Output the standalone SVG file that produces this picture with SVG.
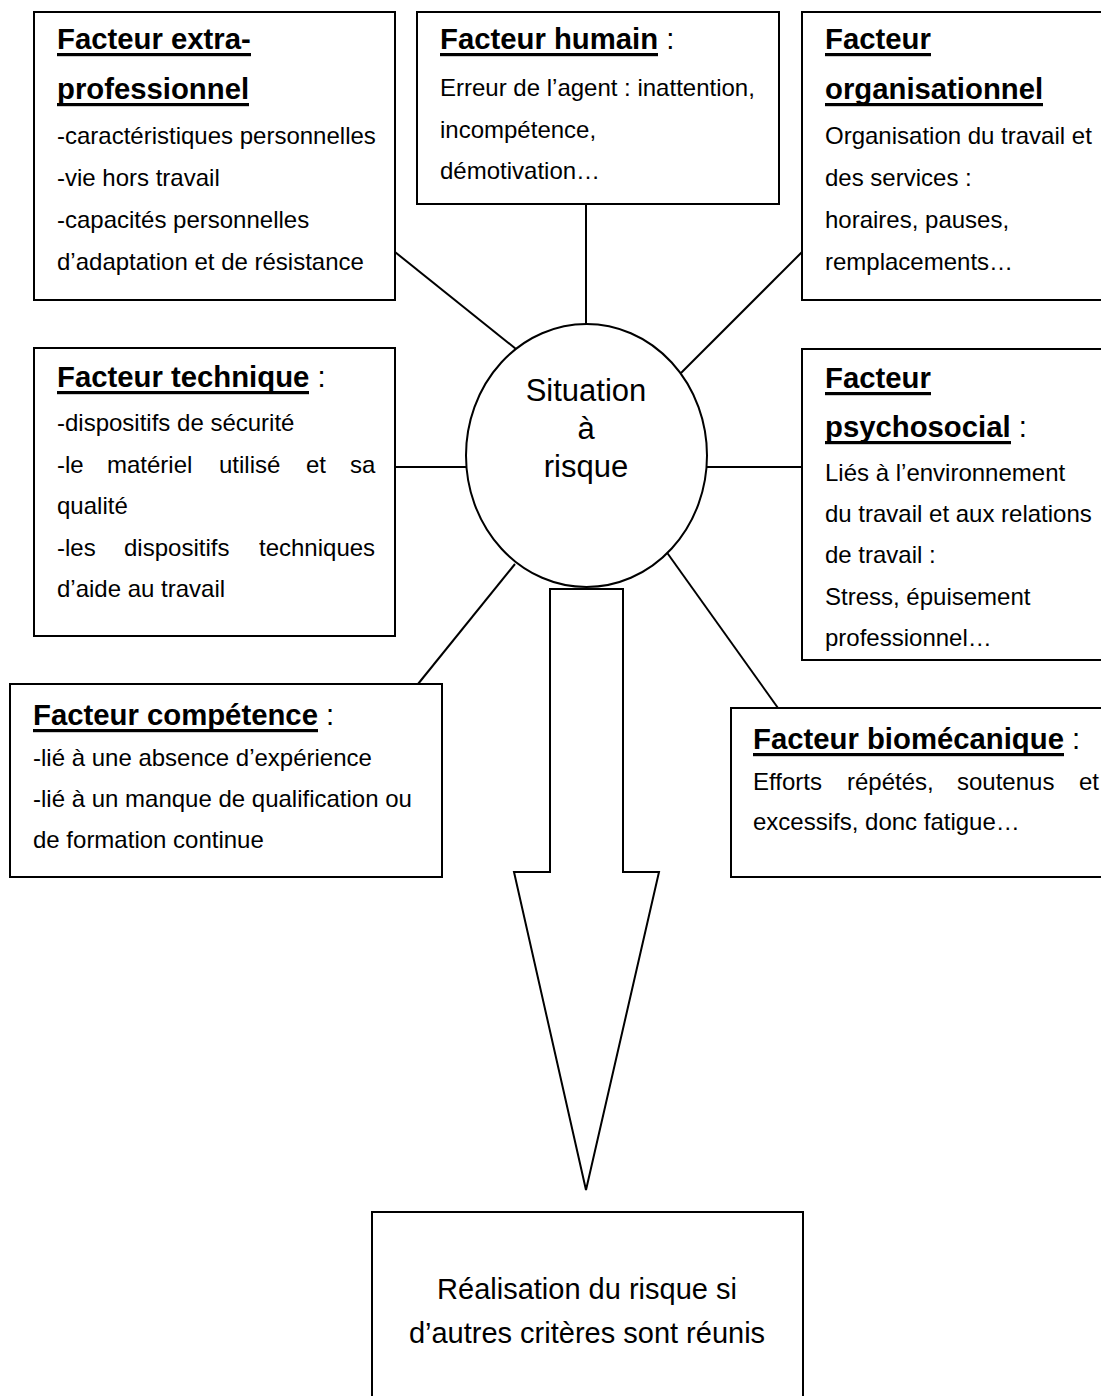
<svg xmlns="http://www.w3.org/2000/svg" width="1101" height="1396" viewBox="0 0 1101 1396">
<style>
.box{fill:#fff;stroke:#000;stroke-width:2}
.ln{stroke:#000;stroke-width:2;fill:none}
.t{font-family:"Liberation Sans",Arial,sans-serif;font-size:29.3px;font-weight:bold;fill:#000}
.c{font-family:"Liberation Sans",Arial,sans-serif;font-size:29.3px;font-weight:normal;fill:#000}
.b{font-family:"Liberation Sans",Arial,sans-serif;font-size:24px;fill:#000}
.big{font-family:"Liberation Sans",Arial,sans-serif;font-size:31px;fill:#000;text-anchor:middle}
.res{font-family:"Liberation Sans",Arial,sans-serif;font-size:29px;fill:#000;text-anchor:middle}
.u{fill:#000}
</style>
<rect width="1101" height="1396" fill="#fff"/>
<g id="connectors">
<line class="ln" x1="395" y1="252" x2="516" y2="349"/>
<line class="ln" x1="586" y1="204" x2="586" y2="324"/>
<line class="ln" x1="802" y1="252" x2="681" y2="373"/>
<line class="ln" x1="395" y1="467" x2="467" y2="467"/>
<line class="ln" x1="706" y1="467" x2="802" y2="467"/>
<line class="ln" x1="418" y1="684" x2="515" y2="564"/>
<line class="ln" x1="658" y1="540" x2="778" y2="708"/>
<path id="big-arrow" class="ln" d="M550,589 L623,589 L623,872 L659,872 L586,1190 L514,872 L550,872 Z"/>
</g>
<g id="n-extra">
<rect class="box" x="34" y="12" width="361" height="288"/>
<text class="t" x="57" y="49">Facteur extra-</text>
<rect class="u" x="57" y="53" width="194" height="3.2"/>
<text class="t" x="57" y="99">professionnel</text>
<rect class="u" x="57" y="103" width="192" height="3.2"/>
<text class="b" x="57" y="144">-caractéristiques personnelles</text>
<text class="b" x="57" y="186">-vie hors travail</text>
<text class="b" x="57" y="228">-capacités personnelles</text>
<text class="b" x="57" y="270">d’adaptation et de résistance</text>
</g>
<g id="n-humain">
<rect class="box" x="417" y="12" width="362" height="192"/>
<text class="t" x="440" y="49">Facteur humain<tspan class="c"> :</tspan></text>
<rect class="u" x="440" y="53" width="218" height="3.2"/>
<text class="b" x="440" y="96">Erreur de l’agent : inattention,</text>
<text class="b" x="440" y="138">incompétence,</text>
<text class="b" x="440" y="179">démotivation…</text>
</g>
<g id="n-organisationnel">
<rect class="box" x="802" y="12" width="310" height="288"/>
<text class="t" x="825" y="49">Facteur</text>
<rect class="u" x="825" y="53" width="106" height="3.2"/>
<text class="t" x="825" y="99">organisationnel</text>
<rect class="u" x="825" y="103" width="218" height="3.2"/>
<text class="b" x="825" y="144">Organisation du travail et</text>
<text class="b" x="825" y="186">des services :</text>
<text class="b" x="825" y="228">horaires, pauses,</text>
<text class="b" x="825" y="270">remplacements…</text>
</g>
<g id="n-technique">
<rect class="box" x="34" y="348" width="361" height="288"/>
<text class="t" x="57" y="387">Facteur technique<tspan class="c"> :</tspan></text>
<rect class="u" x="57" y="391" width="252" height="3.2"/>
<text class="b" x="57" y="431">-dispositifs de sécurité</text>
<text class="b" y="473"><tspan x="57">-le</tspan><tspan x="107">matériel</tspan><tspan x="219">utilisé</tspan><tspan x="306">et</tspan><tspan x="350">sa</tspan></text>
<text class="b" x="57" y="514">qualité</text>
<text class="b" y="556"><tspan x="57">-les</tspan><tspan x="124">dispositifs</tspan><tspan x="259">techniques</tspan></text>
<text class="b" x="57" y="597">d’aide au travail</text>
</g>
<g id="n-situation">
<ellipse class="box" cx="586.5" cy="455.5" rx="120.5" ry="131.5"/>
<text class="big" x="586" y="401">Situation</text>
<text class="big" x="586" y="439">à</text>
<text class="big" x="586" y="477">risque</text>
</g>
<g id="n-psychosocial">
<rect class="box" x="802" y="349" width="310" height="311"/>
<text class="t" x="825" y="388">Facteur</text>
<rect class="u" x="825" y="392" width="106" height="3.2"/>
<text class="t" x="825" y="437">psychosocial<tspan class="c"> :</tspan></text>
<rect class="u" x="825" y="441" width="186" height="3.2"/>
<text class="b" x="825" y="481">Liés à l’environnement</text>
<text class="b" x="825" y="522">du travail et aux relations</text>
<text class="b" x="825" y="563">de travail :</text>
<text class="b" x="825" y="605">Stress, épuisement</text>
<text class="b" x="825" y="646">professionnel…</text>
</g>
<g id="n-competence">
<rect class="box" x="10" y="684" width="432" height="193"/>
<text class="t" x="33" y="725">Facteur compétence<tspan class="c"> :</tspan></text>
<rect class="u" x="33" y="729" width="285" height="3.2"/>
<text class="b" x="33" y="766">-lié à une absence d’expérience</text>
<text class="b" x="33" y="807">-lié à un manque de qualification ou</text>
<text class="b" x="33" y="848">de formation continue</text>
</g>
<g id="n-biomecanique">
<rect class="box" x="731" y="708" width="380" height="169"/>
<text class="t" x="753" y="749">Facteur biomécanique<tspan class="c"> :</tspan></text>
<rect class="u" x="753" y="753" width="311" height="3.2"/>
<text class="b" y="790"><tspan x="753">Efforts</tspan><tspan x="847">répétés,</tspan><tspan x="957">soutenus</tspan><tspan x="1079">et</tspan></text>
<text class="b" x="753" y="830">excessifs, donc fatigue…</text>
</g>
<g id="n-realisation">
<rect class="box" x="372" y="1212" width="431" height="200"/>
<text class="res" x="587" y="1299">Réalisation du risque si</text>
<text class="res" x="587" y="1343">d’autres critères sont réunis</text>
</g>
</svg>
